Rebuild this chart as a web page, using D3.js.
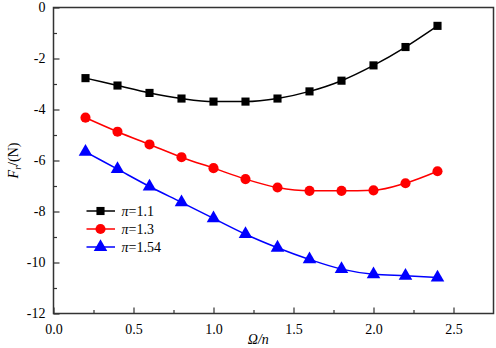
<!DOCTYPE html>
<html><head><meta charset="utf-8">
<script src="https://cdn.jsdelivr.net/npm/d3@7"></script>
<style>body{margin:0;background:#fff}svg{display:block}svg text{font-family:"Liberation Serif","Times New Roman",serif !important}</style>
</head><body><svg id="c" width="496" height="348"></svg>
<script>
const xs = [0.2,0.4,0.6,0.8,1.0,1.2,1.4,1.6,1.8,2.0,2.2,2.4];
const s11 = [-2.77,-3.06,-3.35,-3.57,-3.69,-3.69,-3.57,-3.29,-2.87,-2.27,-1.55,-0.72];
const s13 = [-4.32,-4.87,-5.37,-5.87,-6.30,-6.73,-7.06,-7.19,-7.19,-7.17,-6.89,-6.42];
const s154 = [-5.66,-6.34,-7.02,-7.64,-8.27,-8.89,-9.42,-9.88,-10.26,-10.46,-10.52,-10.59];
const seriesNames = ["1.1","1.3","1.54"];
const xTicks = [0,0.5,1.0,1.5,2.0,2.5];
const yTicks = [0,-2,-4,-6,-8,-10,-12];

const svg = d3.select("#c");
const m = {l:53.5, t:7.5, r:493.5, b:313.5};
const x = d3.scaleLinear().domain([0,2.75]).range([m.l,m.r]);
const y = d3.scaleLinear().domain([-12,0]).range([m.b,m.t]);
const axisCol = "#333";
const FONT = "'Liberation Serif','Times New Roman',serif";

// frame
svg.append("rect").attr("x",m.l).attr("y",m.t).attr("width",m.r-m.l).attr("height",m.b-m.t)
  .attr("fill","none").attr("stroke",axisCol).attr("stroke-width",1.5);

// x axis
const gx = svg.append("g").attr("transform",`translate(0,${m.b})`);
gx.call(d3.axisBottom(x).tickValues(xTicks).tickSize(-6).tickPadding(11).tickFormat(d3.format(".1f")));
const gxm = svg.append("g").attr("transform",`translate(0,${m.b})`);
gxm.call(d3.axisBottom(x).tickValues([0.25,0.75,1.25,1.75,2.25]).tickSize(-3.5).tickFormat(""));
// y axis
const gy = svg.append("g").attr("transform",`translate(${m.l},0)`);
gy.call(d3.axisLeft(y).tickValues(yTicks).tickSize(-6).tickPadding(8).tickFormat(d=>d===0?"0":"-"+Math.abs(d)));
const gym = svg.append("g").attr("transform",`translate(${m.l},0)`);
gym.call(d3.axisLeft(y).tickValues([-1,-3,-5,-7,-9,-11]).tickSize(-3.5).tickFormat(""));
[gx,gxm,gy,gym].forEach(g=>g.attr("font-family",FONT).attr("font-size",14));
svg.selectAll(".domain").remove();
svg.selectAll(".tick line").attr("stroke",axisCol).attr("stroke-width",1.2);
svg.selectAll(".tick text").attr("font-size",14).attr("fill","#000").attr("font-family",FONT);

// axis labels
svg.append("text").attr("x",x(1.28)).attr("y",344).attr("text-anchor","middle").attr("font-size",14)
  .attr("font-family",FONT).attr("font-style","italic").text("Ω/n");
const yl = svg.append("text").attr("transform",`translate(18,${(m.t+m.b)/2}) rotate(-90)`).attr("text-anchor","middle").attr("font-size",14).attr("font-family",FONT);
yl.append("tspan").attr("font-style","italic").text("F");
yl.append("tspan").attr("font-style","italic").attr("font-size",10).attr("dy",3).text("r");
yl.append("tspan").attr("dy",-3).text("/(N)");

const data = [
  {name:seriesNames[0], vals:s11, color:"#000", shape:"square"},
  {name:seriesNames[1], vals:s13, color:"#ff0000", shape:"circle"},
  {name:seriesNames[2], vals:s154, color:"#0000ff", shape:"triangle"}
];
const line = d3.line().x(d=>x(d[0])).y(d=>y(d[1])).curve(d3.curveMonotoneX);
const sym = {square:d3.symbol().type(d3.symbolSquare).size(66),
             circle:d3.symbol().type(d3.symbolCircle).size(80),
             triangle:d3.symbol().type(d3.symbolTriangle).size(80)};
data.forEach(s=>{
  const pts = xs.map((v,i)=>[v,s.vals[i]]);
  svg.append("path").attr("d",line(pts)).attr("fill","none").attr("stroke",s.color).attr("stroke-width",1.5);
  svg.append("g").selectAll("path").data(pts).join("path")
    .attr("transform",d=>`translate(${x(d[0])},${y(d[1])})`).attr("d",sym[s.shape]()).attr("fill",s.color);
});

// legend
const ly = [211,229,247];
data.forEach((s,i)=>{
  const g = svg.append("g");
  g.append("line").attr("x1",86.5).attr("x2",115).attr("y1",ly[i]).attr("y2",ly[i]).attr("stroke",s.color).attr("stroke-width",1.5);
  g.append("path").attr("transform",`translate(100.5,${ly[i]})`).attr("d",sym[s.shape]()).attr("fill",s.color);
  const t = g.append("text").attr("x",121.5).attr("y",ly[i]+5).attr("font-size",14).attr("font-family",FONT);
  t.append("tspan").attr("font-style","italic").text("π");
  t.append("tspan").text("="+s.name);
});
</script></body></html>
